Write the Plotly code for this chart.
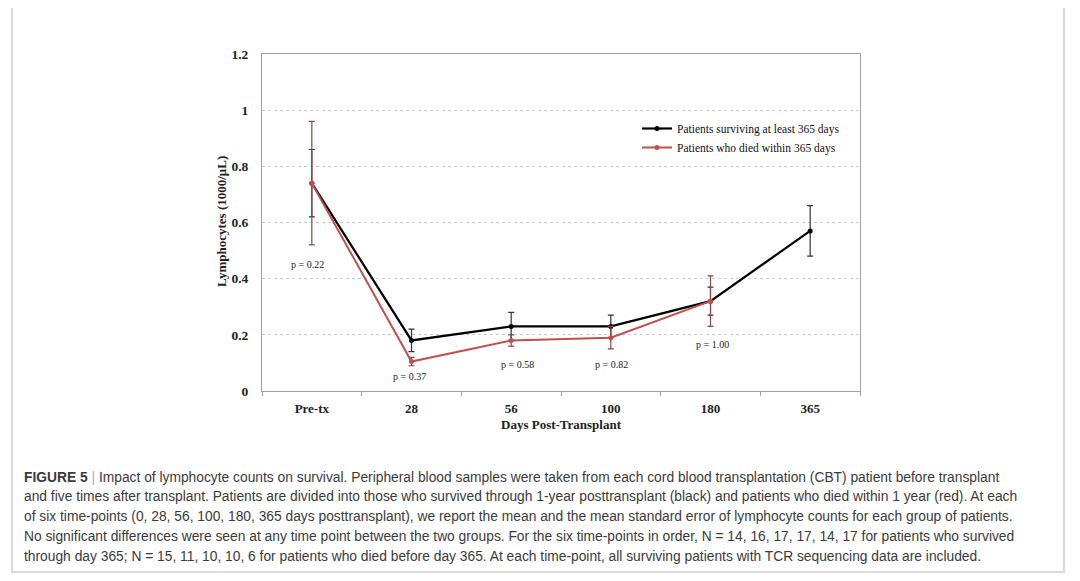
"""
Lymphocyte counts by survival group (CBT patients), recreated with Plotly.
"""
import plotly.graph_objects as go

BLACK, RED, RED_ERR, GRID, FRAME = "#000000", "#c0504d", "#8e4545", "#c8c8c8", "#dadada"
SERIF = "Liberation Serif, Times New Roman, serif"
SANS = "Liberation Sans, Arial, sans-serif"

# Data
days = ["Pre-tx", "28", "56", "100", "180", "365"]
surv_mean = [0.74, 0.18, 0.23, 0.23, 0.32, 0.57]
surv_se = [0.12, 0.04, 0.05, 0.04, 0.05, 0.09]
died_days = ["Pre-tx", "28", "56", "100", "180"]
died_mean = [0.74, 0.105, 0.18, 0.19, 0.32]
died_se = [0.22, 0.015, 0.02, 0.04, 0.09]
p_text = ["p = 0.22", "p = 0.37", "p = 0.58", "p = 0.82", "p = 1.00"]
p_y = [0.45, 0.05, 0.095, 0.093, 0.165]
p_shift = [-4, -2, 6, 1, 2]
y_ticks = [0, 0.2, 0.4, 0.6, 0.8, 1.0, 1.2]
y_ticktext = ["0", "0.2", "0.4", "0.6", "0.8", "1", "1.2"]

caption = [
    "<b>FIGURE 5</b> <span style='color:#aaaaaa'>|</span> Impact of lymphocyte counts on survival. "
    "Peripheral blood samples were taken from each cord blood transplantation (CBT) patient before transplant",
    "and five times after transplant. Patients are divided into those who survived through 1-year "
    "posttransplant (black) and patients who died within 1 year (red). At each",
    "of six time-points (0, 28, 56, 100, 180, 365 days posttransplant), we report the mean and the mean "
    "standard error of lymphocyte counts for each group of patients.",
    "No significant differences were seen at any time point between the two groups. For the six "
    "time-points in order, N = 14, 16, 17, 17, 14, 17 for patients who survived",
    "through day 365; N = 15, 11, 10, 10, 6 for patients who died before day 365. At each time-point, "
    "all surviving patients with TCR sequencing data are included.",
]

# page geometry in window pixels; the page body adds an 8px margin
OFF = 8
W, H = 1080 - 2 * OFF, 581 - 2 * OFF
L, R, T, B = 262 - OFF, 860 - OFF, 54 - OFF, 391 - OFF


def px(x):
    return (x - OFF - L) / (R - L)


def py(y):
    return (B - (y - OFF)) / (B - T)


fig = go.Figure()

fig.add_trace(go.Scatter(
    x=days, y=surv_mean, mode="lines+markers", name="Patients surviving at least 365 days",
    line=dict(color=BLACK, width=2.2), marker=dict(size=5, color=BLACK),
    error_y=dict(type="data", array=surv_se, color="#333333", thickness=1.2, width=3),
    hovertemplate="%{x}<br>%{y:.2f}<extra>Survived</extra>",
))
fig.add_trace(go.Scatter(
    x=died_days, y=died_mean, mode="lines+markers", name="Patients who died within 365 days",
    line=dict(color=RED, width=2), marker=dict(size=5, color=RED),
    error_y=dict(type="data", array=died_se, color=RED_ERR, thickness=1.2, width=3),
    hovertemplate="%{x}<br>%{y:.2f}<extra>Died</extra>",
))

# p-values
for i, (t, yv) in enumerate(zip(p_text, p_y)):
    fig.add_annotation(x=i, y=yv, xref="x", yref="y", text=t, showarrow=False,
                       xshift=p_shift[i], font=dict(family=SERIF, size=10, color="#222222"))

# axis titles
fig.add_annotation(x=px(221), y=py(222), xref="paper", yref="paper", text="<b>Lymphocytes (1000/μL)</b>",
                   textangle=-90, showarrow=False, xanchor="center", yanchor="middle",
                   font=dict(family=SERIF, size=13, color="#222222"))
fig.add_annotation(x=px(561), y=py(424), xref="paper", yref="paper", text="<b>Days Post-Transplant</b>",
                   showarrow=False, xanchor="center", yanchor="middle",
                   font=dict(family=SERIF, size=13, color="#222222"))

# caption
for i, line in enumerate(caption):
    fig.add_annotation(x=px(22), y=py(477 + 19.8 * i), xref="paper", yref="paper", text=line,
                       xanchor="left", yanchor="middle", showarrow=False, align="left",
                       font=dict(family=SANS, size=13.8, color="#3a3a3a"))

# outer frame
fig.add_shape(type="rect", xref="paper", yref="paper", x0=px(12), x1=px(1064), y0=py(572), y1=py(5),
              line=dict(color=FRAME, width=2), layer="below")

fig.update_xaxes(
    type="category", range=[-0.5, 5.5], showline=True, linecolor="#a0a0a0", linewidth=1,
    mirror=True, ticks="outside", tickson="boundaries", ticklen=4, tickcolor="#a0a0a0",
    ticklabelstandoff=5, showgrid=False,
    tickfont=dict(family=SERIF, size=13, color="#222222", weight="bold"),
)
fig.update_yaxes(
    range=[0, 1.2], tickvals=y_ticks, ticktext=y_ticktext, showline=True, linecolor="#a0a0a0",
    linewidth=1, mirror=True, ticks="", ticklabelstandoff=10, showgrid=True, gridcolor=GRID,
    griddash="3px,3px", gridwidth=1, zeroline=False,
    tickfont=dict(family=SERIF, size=13.5, color="#222222", weight="bold"),
)

fig.update_layout(
    width=W, height=H, margin=dict(l=L, r=W - R, t=T, b=H - B, autoexpand=False),
    paper_bgcolor="white", plot_bgcolor="white", showlegend=True,
    legend=dict(x=px(637), y=py(114), xanchor="left", yanchor="top", bgcolor="rgba(0,0,0,0)",
                font=dict(family=SERIF, size=11.5, color="#111111"), itemwidth=30, tracegroupgap=0),
)

fig.write_html("out.html")
